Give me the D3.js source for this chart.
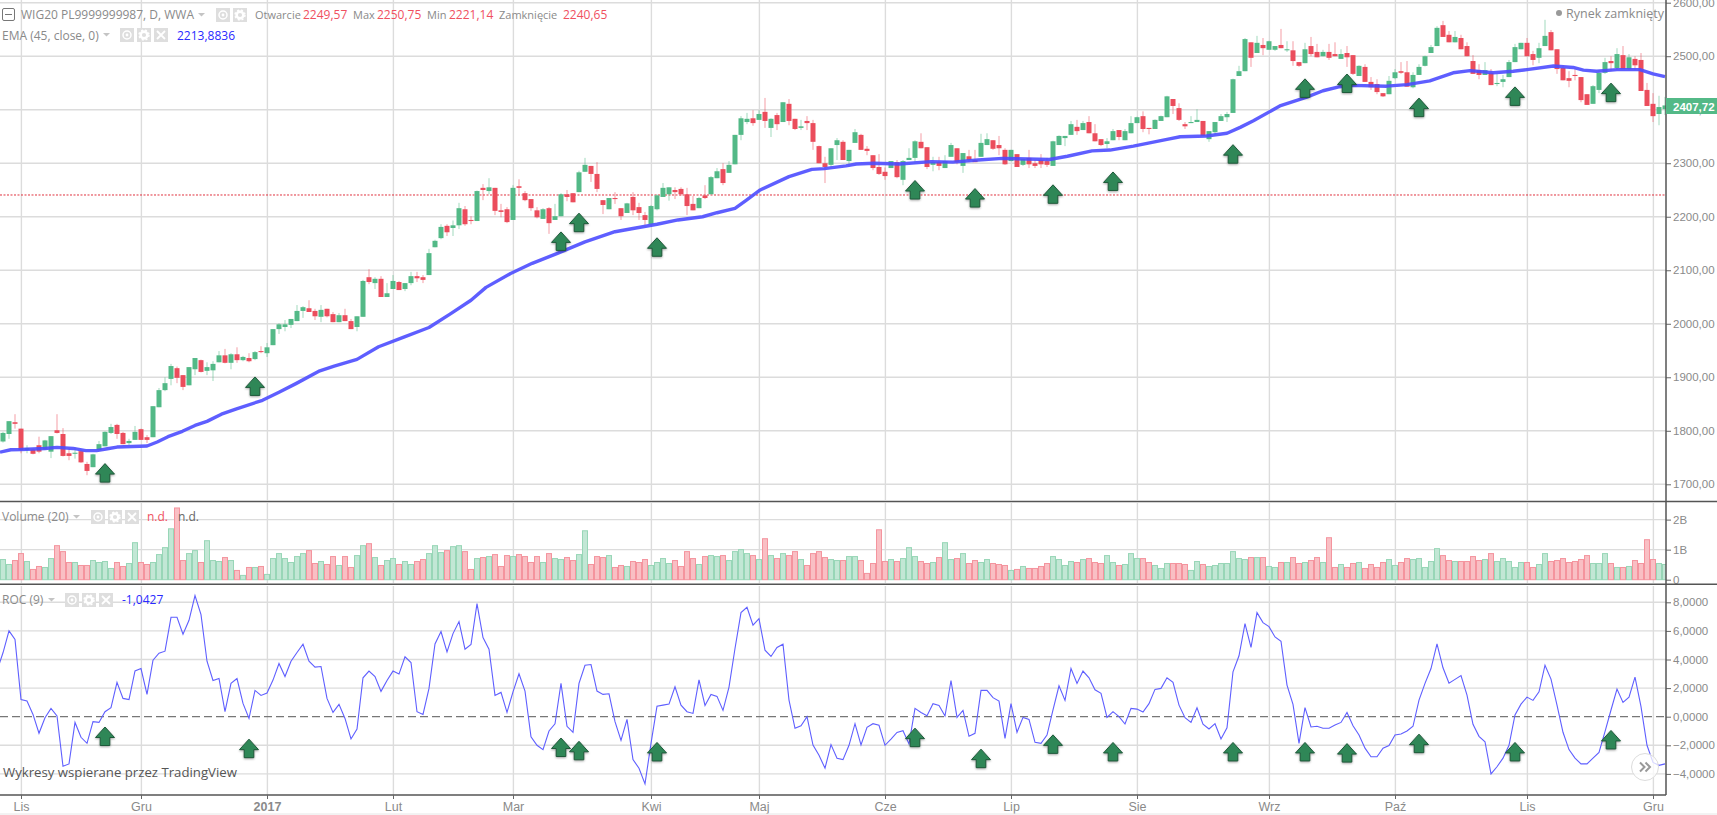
<!DOCTYPE html>
<html>
<head>
<meta charset="utf-8">
<script src="https://cdn.jsdelivr.net/npm/d3@7"></script>
<style>
html, body { margin: 0; padding: 0; background: #fff; overflow: hidden; }
svg { display: block; font-family: "Open Sans", sans-serif; }
.axis text { font-family: "Liberation Sans", sans-serif; font-size: 11.5px; fill: #8a8a8a; }
.axis .domain { stroke: #555; stroke-width: 1.5; }
.axis .tick line { stroke: #666; }
.legend { font-size: 12px; fill: #8a8a8a; }
</style>
</head>
<body>
<div class="container"></div>
<script>
const width = 1717, height = 815, right = 1666;

// open, high, low, close
const candles = [
[1800,1805,1775,1785],[1780,1798,1778,1796],[1794,1818,1785,1818],[1816,1831,1804,1813],[1804,1804,1758,1764],
[1764,1773,1758,1768],[1765,1767,1756,1757],[1773,1789,1758,1761],[1765,1783,1764,1782],[1761,1790,1749,1790],
[1801,1831,1795,1796],[1794,1805,1752,1753],[1758,1767,1745,1753],[1757,1769,1748,1759],[1762,1765,1740,1741],
[1738,1742,1717,1725],[1732,1757,1732,1756],[1764,1781,1763,1775],[1771,1799,1771,1798],[1796,1813,1794,1807],
[1811,1813,1785,1794],[1796,1798,1775,1775],[1777,1785,1773,1781],[1783,1809,1783,1798],[1803,1804,1783,1783],
[1788,1792,1777,1783],[1788,1846,1788,1846],[1844,1880,1844,1876],[1876,1900,1874,1889],[1897,1925,1885,1921],
[1917,1920,1889,1899],[1904,1904,1876,1882],[1885,1919,1885,1919],[1915,1936,1904,1936],[1932,1933,1909,1910],
[1912,1928,1904,1919],[1913,1930,1893,1925],[1928,1949,1928,1941],[1941,1953,1926,1927],[1927,1945,1915,1943],
[1943,1956,1927,1932],[1932,1940,1930,1938],[1936,1945,1928,1930],[1934,1949,1932,1947],[1949,1958,1945,1947],
[1945,1964,1938,1956],[1960,1990,1960,1990],[1990,2001,1981,1999],[1994,2007,1986,1999],[1998,2009,1992,2009],
[2005,2035,2005,2024],[2024,2033,2011,2031],[2029,2044,2022,2022],[2024,2028,2007,2014],[2013,2035,2003,2026],
[2028,2028,2012,2014],[2018,2022,2003,2003],[2003,2020,2003,2016],[2016,2028,2005,2005],[2005,2009,1990,1990],
[1994,2014,1986,2014],[2013,2082,2013,2080],[2087,2102,2074,2078],[2076,2087,2065,2084],[2084,2089,2050,2050],
[2050,2076,2050,2057],[2065,2091,2065,2080],[2078,2080,2063,2063],[2065,2076,2061,2076],[2076,2097,2072,2089],
[2089,2097,2078,2085],[2087,2091,2076,2082],[2091,2140,2091,2132],[2143,2157,2143,2155],[2160,2186,2158,2181],
[2183,2186,2164,2171],[2179,2193,2164,2184],[2184,2226,2177,2216],[2214,2220,2183,2186],[2194,2201,2186,2192],
[2192,2249,2192,2248],[2254,2261,2231,2250],[2248,2272,2242,2255],[2254,2254,2203,2211],[2212,2224,2199,2209],
[2214,2218,2188,2190],[2194,2259,2194,2254],[2257,2270,2242,2254],[2244,2248,2229,2231],[2233,2233,2211,2216],
[2212,2218,2197,2199],[2196,2216,2196,2214],[2216,2218,2168,2188],[2194,2224,2194,2201],[2201,2244,2201,2242],
[2242,2250,2229,2237],[2244,2244,2227,2227],[2246,2286,2246,2283],[2284,2310,2284,2297],[2295,2295,2265,2280],
[2280,2302,2246,2252],[2231,2231,2205,2222],[2214,2235,2214,2235],[2235,2246,2224,2233],[2216,2216,2194,2201],
[2207,2226,2207,2225],[2237,2246,2203,2212],[2218,2226,2194,2207],[2203,2209,2184,2194],[2186,2222,2182,2220],
[2214,2242,2212,2240],[2237,2263,2237,2254],[2242,2255,2230,2255],[2250,2255,2233,2246],[2252,2255,2239,2242],
[2242,2254,2203,2220],[2224,2239,2212,2212],[2216,2237,2216,2235],[2240,2259,2233,2235],[2242,2276,2242,2274],
[2272,2291,2272,2285],[2289,2300,2259,2263],[2282,2304,2282,2297],[2298,2353,2298,2353],[2353,2388,2343,2384],
[2377,2394,2373,2383],[2384,2399,2370,2375],[2381,2399,2381,2392],[2396,2422,2366,2379],[2366,2384,2349,2383],
[2390,2394,2362,2373],[2377,2414,2377,2414],[2411,2420,2371,2379],[2383,2383,2362,2364],[2366,2381,2362,2369],
[2379,2388,2362,2375],[2375,2381,2325,2340],[2332,2333,2300,2300],[2300,2312,2263,2293],[2297,2328,2293,2328],
[2334,2347,2306,2343],[2340,2343,2306,2306],[2304,2325,2293,2325],[2338,2364,2338,2358],[2353,2355,2325,2325],
[2327,2332,2315,2323],[2315,2315,2287,2291],[2293,2317,2278,2280],[2284,2292,2269,2276],[2291,2304,2291,2304],
[2302,2306,2272,2274],[2269,2306,2259,2304],[2306,2328,2306,2310],[2310,2343,2302,2341],[2340,2356,2328,2328],
[2330,2330,2289,2293],[2297,2312,2285,2302],[2302,2312,2287,2295],[2291,2315,2291,2304],[2312,2338,2312,2334],
[2328,2328,2298,2302],[2295,2319,2282,2319],[2313,2325,2302,2306],[2306,2325,2302,2302],[2312,2355,2312,2338],
[2334,2356,2334,2345],[2343,2343,2325,2327],[2334,2351,2315,2328],[2325,2328,2297,2298],[2304,2325,2304,2325],
[2317,2317,2293,2293],[2297,2308,2295,2308],[2310,2325,2291,2298],[2300,2306,2291,2295],[2306,2317,2291,2298],
[2304,2310,2293,2297],[2295,2342,2295,2341],[2334,2352,2334,2351],[2347,2351,2332,2351],[2353,2379,2353,2373],
[2368,2381,2353,2360],[2362,2379,2362,2375],[2377,2388,2356,2356],[2356,2373,2341,2341],[2345,2345,2332,2334],
[2336,2347,2328,2341],[2343,2364,2343,2360],[2362,2362,2343,2349],[2343,2364,2343,2360],[2356,2388,2356,2375],
[2375,2387,2375,2386],[2388,2397,2358,2364],[2366,2366,2354,2364],[2364,2382,2364,2381],[2379,2389,2379,2388],
[2386,2426,2386,2425],[2420,2420,2392,2407],[2403,2412,2379,2381],[2373,2377,2364,2369],[2375,2388,2375,2377],
[2377,2401,2377,2381],[2379,2379,2351,2351],[2345,2360,2340,2360],[2358,2377,2353,2377],[2379,2392,2379,2388],
[2386,2396,2377,2392],[2394,2458,2394,2457],[2463,2482,2463,2472],[2472,2534,2472,2532],[2526,2526,2480,2497],
[2506,2538,2506,2525],[2521,2534,2502,2515],[2512,2529,2512,2528],[2512,2519,2510,2519],[2521,2551,2515,2515],
[2511,2528,2508,2513],[2511,2528,2482,2491],[2489,2489,2480,2482],[2487,2525,2487,2513],[2519,2536,2500,2504],
[2508,2523,2498,2498],[2500,2512,2500,2508],[2508,2523,2493,2497],[2504,2526,2500,2500],[2495,2513,2495,2504],
[2506,2519,2480,2498],[2502,2502,2465,2467],[2463,2483,2463,2482],[2480,2485,2452,2452],[2452,2461,2437,2442],
[2448,2457,2429,2433],[2431,2431,2424,2425],[2429,2463,2429,2454],[2459,2476,2457,2470],[2472,2489,2467,2469],
[2470,2491,2443,2443],[2442,2470,2440,2465],[2465,2485,2465,2480],[2482,2501,2481,2500],[2506,2521,2506,2517],
[2519,2556,2519,2553],[2558,2566,2536,2536],[2540,2547,2526,2526],[2526,2547,2526,2536],[2534,2540,2513,2513],
[2519,2526,2500,2500],[2491,2502,2467,2467],[2474,2485,2457,2465],[2465,2489,2465,2474],[2469,2476,2446,2446],
[2448,2467,2444,2450],[2452,2465,2442,2457],[2461,2493,2461,2489],[2489,2523,2489,2517],[2513,2525,2513,2525],
[2525,2534,2500,2500],[2504,2510,2483,2493],[2497,2525,2487,2515],[2519,2568,2519,2538],[2545,2549,2511,2511],
[2513,2513,2467,2476],[2478,2483,2455,2455],[2459,2472,2442,2454],[2465,2478,2455,2463],[2461,2461,2414,2418],
[2429,2429,2409,2409],[2411,2446,2411,2444],[2437,2474,2431,2469],[2469,2497,2467,2489],[2491,2500,2472,2487],
[2478,2515,2474,2504],[2502,2519,2476,2476],[2476,2504,2474,2498],[2495,2500,2474,2483],[2493,2506,2435,2435],
[2437,2450,2407,2407],[2411,2431,2377,2388],[2392,2426,2371,2405],[2401,2424,2390,2408]
];

// volume, millions
const volume = [
484,671,506,638,869,605,341,440,407,704,
1133,935,572,572,473,473,638,572,605,374,
572,440,539,1232,572,506,572,836,1067,1694,
2387,638,869,968,572,1298,638,605,737,638,
308,143,407,407,440,176,704,869,704,572,
770,869,968,539,605,506,770,473,770,407,
803,1133,1199,737,473,638,704,506,605,506,
605,671,869,1133,902,968,1100,1133,935,341,
704,737,770,836,440,803,770,836,770,572,
770,572,869,704,671,737,638,836,1628,506,
770,737,803,407,473,440,605,572,671,473,
572,704,539,638,440,935,704,506,770,803,
770,803,638,935,1001,869,803,671,1364,803,
704,869,803,935,671,473,869,935,737,671,
638,638,770,770,638,209,539,1661,605,671,
605,704,1067,770,605,539,572,737,1232,671,
704,869,539,638,572,671,539,506,473,308,
341,440,374,374,440,539,770,671,473,605,
572,671,704,572,539,803,572,473,506,869,
704,704,572,473,374,539,539,539,506,308,
605,506,440,473,539,539,935,704,671,737,
737,737,440,407,572,572,737,539,572,638,
737,572,1397,407,506,407,539,572,374,506,
407,572,671,473,572,704,671,704,407,605,
1034,803,638,605,605,605,770,638,671,869,
605,704,605,407,572,572,407,506,869,605,
638,704,572,605,671,803,539,539,869,539,
407,407,440,638,539,1331,671,539,506
];

const roc = [
3.2,4.47,6,5.4,1.2,1.1,.16,-1.16,-.07,.58,
.05,-3.47,-3.3,-.4,-1.44,-1.86,-.35,-.4,.35,.63,
2.4,1.28,1.2,3.2,3.37,1.56,3.95,4.44,4.58,6.95,
6.95,5.77,6.74,8.47,7.14,3.88,2.53,2.67,.35,2.33,
2.67,.93,-.12,1.84,1.49,1.65,2.56,3.72,2.81,3.88,
4.49,5.07,3.88,3.47,3.51,1.28,.3,.86,-.12,-1.56,
-.86,2.72,3.19,2.81,1.77,2.53,3.19,2.98,4.19,3.79,
.35,.16,1.98,5.09,5.95,4.53,5.81,6.65,4.72,5.05,
7.91,5.53,4.72,1.49,1.7,.3,1.74,3,1.79,-1.4,
-2,-2.3,-1,-.5,2.33,-.67,-1.09,2.33,3.6,3.65,
1.79,1.56,1.6,-.35,-1.65,-.19,-3,-3.6,-4.7,-1.86,
.74,.81,.88,2.09,.81,.35,.23,2.58,.79,1.56,
1.42,.44,2.07,4.77,7.28,7.65,6.4,6.86,4.65,4.21,
4.84,5.07,1.16,-.81,-.63,0,-1.98,-2.7,-3.6,-1.95,
-2.9,-3,-2,-.49,-1.98,-.74,-.49,-.6,-2,-1.56,
-1.1,-.98,-1.9,.58,.3,.07,.91,.79,.05,2.53,
-.05,.44,-1.37,-1.16,1.84,1.84,1.33,1.09,-1.51,.91,
-1.09,-.05,-.19,-1.79,-1.86,-1.28,.47,2.16,1.14,3.37,
2.33,3.19,2.72,1.88,1.63,-.05,.35,0,-.51,.58,
.53,.33,.91,1.91,1.98,2.72,2.4,.81,-.07,-.4,
.63,-.53,-.86,-.49,-1.56,-.77,3.14,4.26,6.51,4.84,
7.28,6.58,6.3,5.58,5.28,2.21,.86,-1.86,.63,-.72,
-.67,-.81,-.81,-.58,-.4,.3,-.63,-1.28,-2.2,-2.8,
-2.8,-2.2,-2.02,-1.28,-1.21,-1,-.67,1.16,2.33,3.37,
5.09,3.42,2.35,2.61,2.88,1.51,-.53,-1.37,-1.75,-4,
-3.5,-2.9,-2,.12,.88,1.37,1.14,1.74,3.6,2.63,
.81,-1.09,-2.3,-2.9,-3.3,-3.3,-2.9,-2.5,-1.05,.47,
1.93,1,1.37,2.77,.7,-2,-3.2,-3.4,-3.3
];

// EMA (45): [bar, value]
const ema = [
[.5,1760],[2.3,1764.6],[4,1765],[8,1767],[10,1769],[12.7,1767],[14.8,1763],[16.6,1763],[18.4,1766.5],[20,1769.6],
[25,1771.5],[26.7,1779],[28.5,1789],[30.9,1799],[33,1810],[35,1817.6],[37.4,1831],[39.8,1840.6],[44.25,1857],[47,1872],
[49.9,1888.6],[53.8,1912],[56.2,1921],[60,1933.5],[63.6,1957],[67.8,1975],[72,1993],[75.5,2018],[79,2044],[81.5,2068],
[85.6,2094],[89.2,2113],[93.4,2131.6],[98,2153],[103,2172],[106,2178],[110,2186],[113.5,2194],[117.6,2200],[120,2207.5],
[123,2215.6],[124.8,2230],[127.2,2250],[132,2275],[135.8,2288.5],[137.9,2290],[141.5,2295],[143.2,2298.5],[146.2,2300],[150.4,2298.5],
[155.7,2303],[159.3,2302],[163.5,2306],[167.6,2309],[171.8,2308],[175.4,2307],[178.4,2313],[182.5,2323],[185.5,2324.6],[189.4,2332],
[195,2344.6],[197.2,2349.5],[201.6,2351],[205,2356],[207.2,2367],[209.4,2379.5],[213.8,2407],[218.3,2423.5],[221,2435.5],[223.8,2443],
[226,2445.5],[231.6,2444],[235,2447],[238.8,2454],[240.5,2460.5],[242.7,2469],[245.5,2473],[249.4,2469],[252.7,2472],[255,2475],
[259.4,2481.6],[262.7,2479],[264.4,2474],[266.6,2472],[270,2475],[273.8,2475],[276,2467],[278,2462]
];

// signal arrows on the price and ROC panes
const priceArrows = [[18,1720],[43,1882],[94,2153],[97,2188],[110,2142],[153,2249],[163,2234],[176,2241],[186,2265],[206,2316],[218,2439],[225,2448],[237,2403],[253,2424],[269,2431]];
const rocArrows = [[18,-1.42],[42,-2.27],[94,-2.19],[97,-2.42],[110,-2.5],[153,-1.5],[164,-2.97],[176,-1.97],[186,-2.5],[206,-2.5],[218,-2.5],[225,-2.58],[237,-1.92],[253,-2.5],[269,-1.66]];

const months = [[4,"Lis"],[24,"Gru"],[45,"2017"],[66,"Lut"],[86,"Mar"],[109,"Kwi"],[127,"Maj"],[148,"Cze"],[169,"Lip"],[190,"Sie"],[212,"Wrz"],[233,"Paź"],[255,"Lis"],[276,"Gru"]];
const monthName = new Map(months);

const green = "#53b987", red = "#eb4d5c";
const fmt = d3.formatLocale({decimal: ",", thousands: "", grouping: [3], currency: ["", ""]});

const x_scale = d3.scaleLinear().domain([0, 278]).range([-3, 1665]);
const y_price = d3.scaleLinear().domain([1700, 2600]).range([484.3, 2.7]);
const y_vol = d3.scaleLinear().domain([0, 2000]).range([579.7, 519.6]);
const y_roc = d3.scaleLinear().domain([-4, 8]).range([773.9, 602.3]);

const svg = d3.select(".container").append("svg")
    .attr("width", width)
    .attr("height", height);

svg.append("defs").append("clipPath").attr("id", "plot")
    .append("rect").attr("width", right).attr("height", 795);

const grid = svg.append("g").attr("stroke", "#dcdcdc").attr("stroke-width", 1.4);

// vertical grid, broken at the pane separators
[[0, 500], [503, 583], [586, 795]].forEach(([a, b]) => {
    grid.append("g").selectAll("line").data(months).join("line")
        .attr("x1", d => x_scale(d[0]) + .4).attr("x2", d => x_scale(d[0]) + .4)
        .attr("y1", a).attr("y2", b);
});

const priceTicks = d3.range(1700, 2601, 100),
    volTicks = [1000, 2000],
    rocTicks = d3.range(-4, 9, 2);

const hgrid = (ticks, y) => grid.append("g").selectAll("line").data(ticks).join("line")
    .attr("x1", 0).attr("x2", right)
    .attr("y1", d => y(d)).attr("y2", d => y(d));
hgrid(priceTicks, y_price);
hgrid(volTicks, y_vol);
hgrid(rocTicks.filter(d => d !== 0), y_roc);

// price level of the last close
svg.append("line")
    .attr("x1", 0).attr("x2", right)
    .attr("y1", y_price(2240.65)).attr("y2", y_price(2240.65))
    .attr("stroke", "#e0323f").attr("stroke-width", 1).attr("stroke-dasharray", "2,1.5");

const plot = svg.append("g").attr("clip-path", "url(#plot)");

// volume
plot.append("g").selectAll("rect").data(volume).join("rect")
    .attr("x", (d, i) => x_scale(i) - 2.5)
    .attr("width", 5)
    .attr("y", d => y_vol(d))
    .attr("height", d => y_vol(0) - y_vol(d))
    .attr("fill", (d, i) => candles[i][3] >= candles[i][0] ? "#c2e7d5" : "#f9bfc4")
    .attr("stroke", (d, i) => candles[i][3] >= candles[i][0] ? "#98d6b7" : "#f4949e")
    .attr("stroke-width", 1);

// candles
const candle = plot.append("g").selectAll("g").data(candles).join("g")
    .attr("transform", (d, i) => `translate(${x_scale(i)},0)`);
candle.append("line")
    .attr("y1", d => y_price(d[1])).attr("y2", d => y_price(d[2]))
    .attr("stroke", d => d[3] >= d[0] ? green : red)
    .attr("stroke-opacity", .55);
candle.append("rect")
    .attr("x", -2.5).attr("width", 5)
    .attr("y", d => y_price(Math.max(d[0], d[3])))
    .attr("height", d => Math.max(1, Math.abs(y_price(d[0]) - y_price(d[3]))))
    .attr("fill", d => d[3] >= d[0] ? green : red);

// EMA
plot.append("path").datum(ema)
    .attr("fill", "none")
    .attr("stroke", "#4c4cff")
    .attr("stroke-opacity", .9)
    .attr("stroke-width", 3.4)
    .attr("stroke-linejoin", "round")
    .attr("d", d3.line().x(d => x_scale(d[0])).y(d => y_price(d[1])));

// ROC
plot.append("line")
    .attr("x1", 0).attr("x2", right)
    .attr("y1", y_roc(0)).attr("y2", y_roc(0))
    .attr("stroke", "#777").attr("stroke-width", 1.3).attr("stroke-dasharray", "8,4");
plot.append("path").datum(roc)
    .attr("fill", "none")
    .attr("stroke", "#5f5fff")
    .attr("stroke-width", 1.1)
    .attr("d", d3.line().x((d, i) => x_scale(i)).y(d => y_roc(d)));

// arrows
function arrows(data, y) {
    plot.append("g").selectAll("path").data(data).join("path")
        .attr("transform", d => `translate(${x_scale(d[0])},${y(d[1])})`)
        .attr("d", "M0,-10L9.5,.5L4.8,.5L4.8,8.5L-4.8,8.5L-4.8,.5L-9.5,.5Z")
        .attr("fill", "#2f8757")
        .attr("stroke", "#1e5a3a")
        .attr("stroke-width", 1)
        .style("filter", "drop-shadow(0px 1.5px 1px rgba(0,0,0,.35))");
}
arrows(priceArrows, y_price);
arrows(rocArrows, y_roc);

// axes
const axisOpts = a => a.tickSizeOuter(0).tickSize(5).tickPadding(2);
const yAxis = (y, ticks, f) => svg.append("g").attr("class", "axis")
    .attr("transform", `translate(${right},0)`)
    .call(axisOpts(d3.axisRight(y)).tickValues(ticks).tickFormat(f))
    .call(g => g.select(".domain").remove());

yAxis(y_price, priceTicks, fmt.format(".2f"));
yAxis(y_vol, [0, 1000, 2000], d => d === 0 ? "0" : (d / 1000) + "B");
yAxis(y_roc, rocTicks, fmt.format(".4f"));

svg.append("line").attr("x1", right).attr("x2", right).attr("y1", 0).attr("y2", 795)
    .attr("stroke", "#555").attr("stroke-width", 1.5);
[501.5, 584.3].forEach(y => svg.append("line")
    .attr("x1", 0).attr("x2", width).attr("y1", y).attr("y2", y)
    .attr("stroke", "#555").attr("stroke-width", 1.5));

const xAxis = svg.append("g").attr("class", "axis")
    .attr("transform", "translate(0,795)")
    .call(d3.axisBottom(x_scale).tickValues(months.map(d => d[0])).tickFormat(d => monthName.get(d)).tickSize(4).tickSizeOuter(0).tickPadding(3))
    .call(g => g.select(".domain").attr("d", `M0,0H${right}`));
xAxis.selectAll(".tick text")
    .style("font-size", "12.5px")
    .style("font-weight", d => d === 45 ? "bold" : null);

svg.append("line").attr("x1", 0).attr("x2", width).attr("y1", 814).attr("y2", 814).attr("stroke", "#e6e6e6");

// last price tag
svg.append("rect").attr("x", right).attr("y", 98).attr("width", width - right).attr("height", 16).attr("fill", green);
svg.append("text").attr("x", 1673).attr("y", 110.5)
    .attr("fill", "#fff").attr("font-family", "Liberation Sans, sans-serif")
    .attr("font-weight", "bold").attr("font-size", 11.5).text("2407,72");

// legends
const text = (x, y, s, fill, size) => {
    const t = svg.append("text").attr("class", "legend").attr("x", x).attr("y", y).text(s);
    if (fill) t.style("fill", fill);
    if (size) t.style("font-size", size + "px");
    return t;
};

function icon(x, y, kind) {
    const g = svg.append("g").attr("transform", `translate(${x},${y})`);
    g.append("rect").attr("width", 14).attr("height", 14).attr("fill", "#dedede");
    if (kind === "x") {
        g.append("path").attr("d", "M3,3L11,11M11,3L3,11").attr("stroke", "#fff").attr("stroke-width", 1.8);
    } else if (kind === "eye") {
        g.append("circle").attr("cx", 7).attr("cy", 7).attr("r", 4).attr("fill", "none").attr("stroke", "#fff").attr("stroke-width", 1.5);
        g.append("circle").attr("cx", 7).attr("cy", 7).attr("r", 1.4).attr("fill", "#fff");
    } else {
        g.append("circle").attr("cx", 7).attr("cy", 7).attr("r", 3.4).attr("fill", "none").attr("stroke", "#fff").attr("stroke-width", 2.6);
        g.append("circle").attr("cx", 7).attr("cy", 7).attr("r", 5).attr("fill", "none").attr("stroke", "#fff").attr("stroke-width", 1.4).attr("stroke-dasharray", "2,2");
    }
}
const caret = (x, y) => svg.append("path").attr("d", `M${x},${y}h7l-3.5,3.5z`).attr("fill", "#c4c4c4");

svg.append("rect").attr("x", 2.5).attr("y", 8.5).attr("width", 12).attr("height", 12).attr("rx", 1.5)
    .attr("fill", "#fff").attr("stroke", "#777");
svg.append("path").attr("d", "M5,14.5H12").attr("stroke", "#777");
text(21, 19, "WIG20 PL9999999987, D, WWA");
caret(198, 13);
icon(216, 8, "eye"); icon(233, 8, "gear");
text(255, 19, "Otwarcie", null, 11);
text(303, 19, "2249,57", "#f0505f");
text(353, 19, "Max", null, 11);
text(377, 19, "2250,75", "#f0505f");
text(427, 19, "Min", null, 11);
text(449, 19, "2221,14", "#f0505f");
text(499, 19, "Zamknięcie", null, 11);
text(563, 19, "2240,65", "#f0505f");

text(2, 40, "EMA (45, close, 0)");
caret(103, 33);
icon(120, 28, "eye"); icon(137, 28, "gear"); icon(154, 28, "x");
text(177, 40, "2213,8836", "#2a2aff");

text(2, 521, "Volume (20)");
caret(73, 515);
icon(91, 510, "eye"); icon(108, 510, "gear"); icon(125, 510, "x");
text(147, 521, "n.d.", "#f0505f");
text(178, 521, "n.d.", "#666");

text(2, 604, "ROC (9)");
caret(48, 598);
icon(65, 593, "eye"); icon(82, 593, "gear"); icon(99, 593, "x");
text(122, 604, "-1,0427", "#2a2aff");

svg.append("circle").attr("cx", 1559).attr("cy", 13).attr("r", 3).attr("fill", "#999");
text(1566, 17.5, "Rynek zamknięty", null, 12.5);

text(3, 777, "Wykresy wspierane przez TradingView", "#555", 13.2);

// scroll button
svg.append("circle").attr("cx", 1645).attr("cy", 767).attr("r", 13.5)
    .attr("fill", "#fff").attr("fill-opacity", .75).attr("stroke", "#dcdcdc").attr("stroke-width", 1);
svg.append("path").attr("d", "M1640,762.5L1644.5,767L1640,771.5M1645.5,762.5L1650,767L1645.5,771.5")
    .attr("fill", "none").attr("stroke", "#999").attr("stroke-width", 2);
</script>
</body>
</html>
